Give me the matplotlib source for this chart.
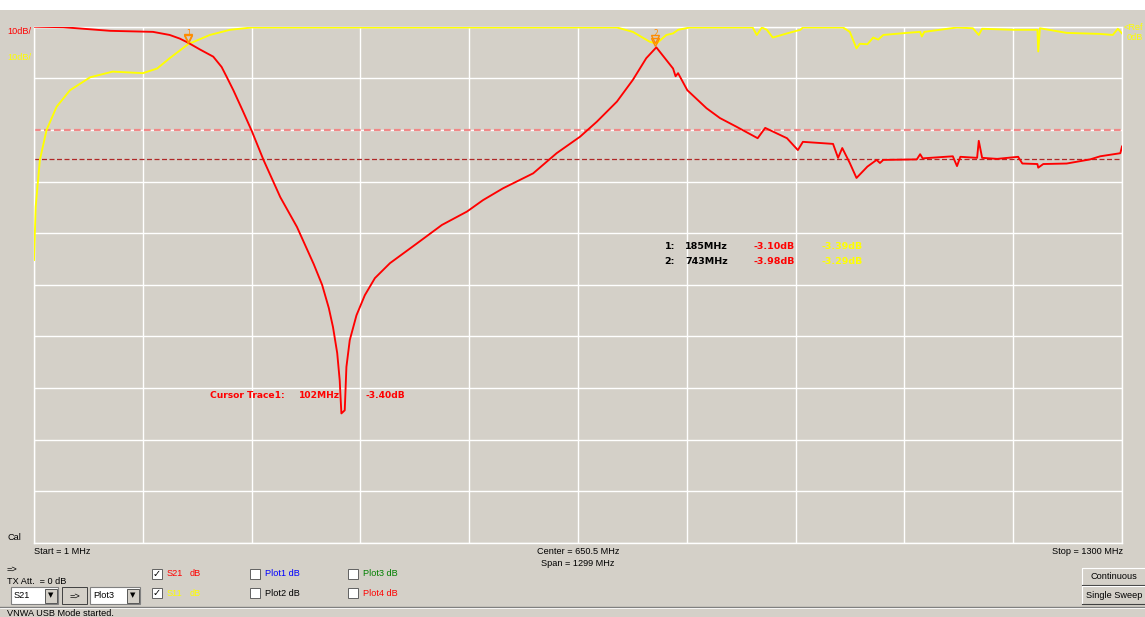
import numpy as np
import matplotlib.pyplot as plt
from matplotlib.patches import Rectangle
from matplotlib.lines import Line2D

W, H = 1145, 617
BG = '#d4d0c8'

# Sweep settings
start_mhz = 1
stop_mhz = 1300

# S21 transmission trace (MHz, dB)
s21_freq = [1, 36, 92, 143, 163, 175, 185, 199, 215, 225, 231, 239, 250, 261, 275, 295,
            315, 335, 345, 353, 358, 363, 366, 368, 372, 374, 378, 386, 396, 408, 426,
            458, 488, 518, 537, 561, 597, 625, 653, 673, 697, 716, 732, 744, 764, 767,
            770, 781, 804, 820, 840, 865, 874, 900, 913, 919, 955, 961, 966, 975, 983,
            996, 1007, 1011, 1015, 1055, 1059, 1062, 1098, 1103, 1107, 1127, 1129,
            1133, 1151, 1176, 1181, 1199, 1200, 1206, 1234, 1262, 1274, 1298, 1300]
s21_db = [0.0, -0.1, -0.8, -1.0, -1.6, -2.3, -3.1, -4.4, -5.8, -7.8, -9.7, -12.3,
          -16.2, -20.2, -25.8, -33.0, -38.8, -46.0, -50.0, -54.5, -58.2, -63.2, -68.5,
          -74.9, -74.3, -65.9, -60.7, -55.9, -52.0, -48.7, -45.8, -42.0, -38.4, -35.8,
          -33.6, -31.3, -28.4, -24.5, -21.3, -18.4, -14.5, -10.3, -6.1, -4.0, -8.1,
          -9.6, -9.0, -12.3, -15.8, -17.7, -19.4, -21.6, -19.6, -21.6, -23.9, -22.3,
          -22.7, -25.4, -23.5, -26.4, -29.3, -27.1, -25.8, -26.4, -25.8, -25.7, -24.7,
          -25.5, -25.1, -27.0, -25.2, -25.4, -22.1, -25.4, -25.6, -25.2, -26.5, -26.6,
          -27.3, -26.6, -26.5, -25.7, -25.1, -24.5, -23.2]

# S11 reflection trace (MHz, dB)
s11_freq = [1, 3, 8, 16, 28, 44, 68, 95, 131, 148, 163, 185, 211, 235, 261, 400,
            600, 697, 716, 736, 744, 756, 764, 770, 784, 859, 864, 870, 876, 883,
            900, 916, 919, 963, 967, 975, 983, 987, 996, 1003, 1009, 1015, 1043,
            1059, 1061, 1064, 1103, 1122, 1129, 1133, 1170, 1199, 1200, 1202, 1234,
            1274, 1289, 1295, 1300]
s11_db = [-45.2, -34.9, -25.8, -20.0, -15.5, -12.3, -9.8, -8.7, -9.0, -8.1, -6.1,
          -3.39, -1.6, -0.6, -0.15, -0.15, -0.15, -0.15, -1.0, -2.9, -3.29, -1.6,
          -1.3, -0.6, -0.15, -0.15, -1.6, -0.15, -0.6, -2.1, -1.3, -0.6, -0.15,
          -0.15, -0.15, -1.0, -4.2, -3.3, -3.4, -2.1, -2.5, -1.6, -1.2, -1.0, -1.9,
          -1.0, -0.15, -0.3, -1.6, -0.4, -0.6, -0.6, -4.8, -0.3, -1.2, -1.4, -1.6,
          -0.4, -1.3]

# Limit lines
limit_upper = -20.0
limit_lower = -25.7

# Markers
marker_freq = [185, 743]
marker_s21 = [-3.10, -3.98]
marker_s11 = [-3.39, -3.29]

# Cursor readout
cursor_freq = 102
cursor_db = -3.40


def px(x, y):
    return x / W, 1 - y / H


def ftext(x, y, s, **kw):
    kw.setdefault('fontsize', 6.6)
    kw.setdefault('family', 'Liberation Sans')
    kw.setdefault('va', 'center')
    fig.text(*px(x, y), s, **kw)


def frect(x0, y0, x1, y1, **kw):
    fig.patches.append(Rectangle(px(x0, y1), (x1 - x0) / W, (y1 - y0) / H,
                                 transform=fig.transFigure, figure=fig, **kw))


def fline(xs, ys, **kw):
    fig.lines.append(Line2D([x / W for x in xs], [1 - y / H for y in ys],
                            transform=fig.transFigure, figure=fig, **kw))


fig = plt.figure(figsize=(W / 100, H / 100), dpi=100, facecolor=BG)
frect(0, 0, W, 9.5, facecolor='white', edgecolor='none')

ax = fig.add_axes([34 / W, 1 - 543 / H, 1088 / W, (543 - 26.7) / H])
ax.set_facecolor(BG)
ax.set_xlim(start_mhz, stop_mhz)
ax.set_ylim(-100, 0)
ax.set_xticks(np.linspace(start_mhz, stop_mhz, 11))
ax.set_yticks(np.arange(-100, 1, 10))
ax.tick_params(length=0, labelbottom=False, labelleft=False)
ax.grid(True, color='white', lw=1.0)
for sp in ax.spines.values():
    sp.set_color('white')
    sp.set_linewidth(1.0)

ax.axhline(limit_upper, color='#f08888', lw=1.6, ls=(0, (3, 1.5)), zorder=2)
ax.axhline(limit_lower, color='#b02828', lw=0.9, ls=(0, (4, 2)), zorder=2)

ax.plot(s11_freq, s11_db, color='#ffff00', lw=1.35, zorder=3)
ax.plot(s21_freq, s21_db, color='#ff0000', lw=1.35, zorder=4)

# marker symbols
for i, f in enumerate(marker_freq):
    for v in (marker_s21[i], marker_s11[i]):
        ax.plot(f, v + 1.0, marker='v', ms=6, mfc='none', mec='#ff8c00', mew=1.0, zorder=5)
    ax.text(f, -0.4, str(i + 1), color='#ff8c00', fontsize=5.5, ha='center', va='top',
            family='DejaVu Sans', zorder=5)

# axis scale labels
ftext(7, 32, '10dB/', color='#ff0000')
ftext(7, 57, '10dB/', color='#ffff00')
ftext(1124, 27, '<Ref', color='#ffff00')
ftext(1127, 38, '0dB', color='#ffff00')

# marker readout table
for i, f in enumerate(marker_freq):
    yy = 246 + 15 * i
    kw = dict(family='DejaVu Sans', fontweight='bold', fontsize=6.8)
    ftext(675, yy, '%d:' % (i + 1), color='black', ha='right', **kw)
    ftext(685, yy, '%dMHz' % f, color='black', **kw)
    ftext(753, yy, '%.2fdB' % marker_s21[i], color='#ff0000', **kw)
    ftext(822, yy, '%.2fdB' % marker_s11[i], color='#ffff00', **kw)

# cursor readout
ckw = dict(family='DejaVu Sans', fontweight='bold', fontsize=6.6, color='#ff0000')
ftext(210, 395, 'Cursor Trace1:', **ckw)
ftext(299, 395, '%dMHz' % cursor_freq, **ckw)
ftext(366, 395, '%.2fdB' % cursor_db, **ckw)

# sweep info
ftext(7, 538, 'Cal')
ftext(34, 552, 'Start = %d MHz' % start_mhz)
ftext(578, 552, 'Center = %.1f MHz' % ((start_mhz + stop_mhz) / 2), ha='center')
ftext(578, 563, 'Span = %d MHz' % (stop_mhz - start_mhz), ha='center')
ftext(1123, 552, 'Stop = %d MHz' % stop_mhz, ha='right')

# control strip
ftext(7, 569, '=>')
ftext(7, 581, 'TX Att.  = 0 dB')


def combo(x0, x1, label):
    frect(x0, 587, x1, 604, facecolor='white', edgecolor='#808080', lw=0.8)
    frect(x1 - 13, 588.5, x1 - 1.5, 602.5, facecolor=BG, edgecolor='#404040', lw=0.6)
    ftext(x0 + 3, 596, label)
    ftext(x1 - 7.2, 595.5, '\u25bc', ha='center', fontsize=5, family='DejaVu Sans')


combo(10.7, 58.3, 'S21')
combo(90, 140, 'Plot3')
frect(62, 587, 87, 604, facecolor=BG, edgecolor='#404040', lw=0.7)
ftext(74.5, 596, '=>', ha='center')

checks = [(152, 574, True, 'S21', 'dB', '#ff0000'),
          (152, 593, True, 'S11', 'dB', '#ffff00'),
          (250, 574, False, 'Plot1', 'dB', '#0000ff'),
          (250, 593, False, 'Plot2', 'dB', '#000000'),
          (348, 574, False, 'Plot3', 'dB', '#008000'),
          (348, 593, False, 'Plot4', 'dB', '#ff0000')]
for x, y, on, name, unit, col in checks:
    frect(x, y - 5, x + 10, y + 5, facecolor='white', edgecolor='#606060', lw=0.7)
    if on:
        ftext(x + 5, y, '\u2713', ha='center', fontsize=7, family='DejaVu Sans',
              fontweight='bold')
    if name.startswith('S'):
        ftext(x + 15, y, name, color=col)
        ftext(x + 38, y, unit, color=col)
    else:
        ftext(x + 15, y, '%s %s' % (name, unit), color=col)

for y0, y1, label in [(568, 585, 'Continuous'), (586, 604, 'Single Sweep')]:
    frect(1082, y0, 1146, y1, facecolor=BG, edgecolor='none')
    fline([1082, 1082, 1146], [y1, y0, y0], color='white', lw=0.8)
    fline([1082, 1146], [y1, y1], color='#404040', lw=0.8)
    ftext(1114, (y0 + y1) / 2, label, ha='center')

fline([0, W], [607, 607], color='#808080', lw=1.0)
fline([0, W], [608, 608], color='white', lw=0.6)
ftext(7, 609, 'VNWA USB Mode started.', va='top')

fig.savefig('out.png', dpi=100, facecolor=BG)
